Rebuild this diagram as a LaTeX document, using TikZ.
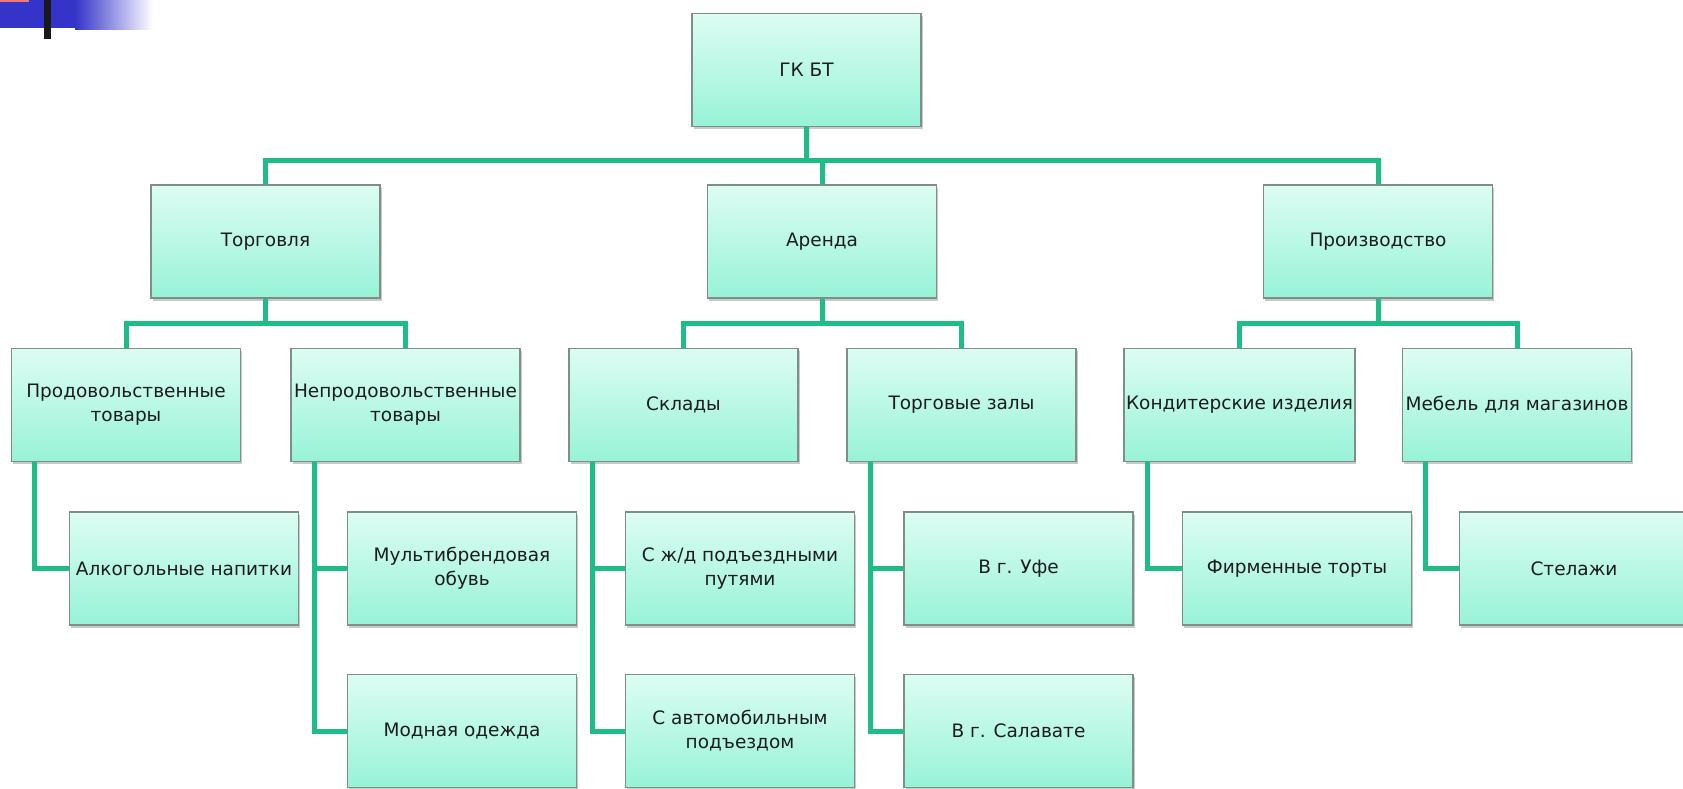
\documentclass[tikz,border=0pt]{standalone}
\usepackage{fontspec}
\setmainfont{DejaVu Sans}
\usetikzlibrary{shadows}

\definecolor{linkc}{HTML}{1DBD8A}
\definecolor{boxtop}{HTML}{DCFDF3}
\definecolor{boxbot}{HTML}{97F3D7}
\definecolor{boxedge}{HTML}{7F8F88}
\definecolor{textc}{HTML}{1C1C1C}
\definecolor{decoblue}{HTML}{3434C9}
\definecolor{decopink}{HTML}{F07878}

\begin{document}
\begin{tikzpicture}[x=1pt,y=-1pt,
  box/.style={draw=boxedge, line width=1.2pt, top color=boxtop, bottom color=boxbot,
    minimum width=229pt, minimum height=113pt, inner sep=2pt, align=center,
    text=textc, font=\fontsize{18.5}{24}\selectfont,
    drop shadow={shadow xshift=1.5pt, shadow yshift=-2.5pt, opacity=0.3, fill=black!70}},
  link/.style={draw=linkc, line width=5pt}]

\useasboundingbox (0,0) rectangle (1683,788);
\clip (0,0) rectangle (1683,788);

% corner ornament
\fill[decoblue] (0,0) rectangle (75,28);
\shade[left color=decoblue, right color=white] (75,0) rectangle (153,29);
\fill[decopink] (0,0) rectangle (29,2);
\fill[black!90] (44,0) rectangle (51,39);

% bus lines
\coordinate (b0) at (0,160);
\coordinate (b1) at (0,323);

% root
\node[box] (top) at (806.5,70) {ГК БТ};

% divisions
\node[box] (t1) at (265.5,241.5) {Торговля};
\node[box] (t2) at (822,241.5) {Аренда};
\node[box] (t3) at (1378,241.5) {Производство};

% sub-divisions
\node[box] (p1) at (126,405) {Продовольственные\\товары};
\node[box] (p2) at (405.5,405) {Непродовольственные\\товары};
\node[box] (p3) at (683.5,405) {Склады};
\node[box] (p4) at (961.5,405) {Торговые залы};
\node[box] (p5) at (1239.5,405) {Кондитерские изделия};
\node[box] (p6) at (1517,405) {Мебель для магазинов};

% items
\node[box] (a1) at (184,568.5) {Алкогольные напитки};
\node[box] (a2) at (462,568.5) {Мультибрендовая\\обувь};
\node[box] (a3) at (462,731) {Модная одежда};
\node[box] (a4) at (740,568.5) {С ж/д подъездными\\путями};
\node[box] (a5) at (740,731) {С автомобильным\\подъездом};
\node[box] (a6) at (1018.5,568.5) {В г. Уфе};
\node[box] (a7) at (1018.5,731) {В г. Салавате};
\node[box] (a8) at (1297,568.5) {Фирменные торты};
\node[box] (a9) at (1574,568.5) {Стелажи};

% root to divisions
\draw[link] (top.south) -- (top.south |- b0);
\draw[link] (t1.north) -- (t1.north |- b0) -| (t3.north);
\draw[link] (t2.north) -- (t2.north |- b0);

% divisions to sub-divisions
\draw[link] (t1.south) -- (t1.south |- b1);
\draw[link] (p1.north) -- (p1.north |- b1) -| (p2.north);
\draw[link] (t2.south) -- (t2.south |- b1);
\draw[link] (p3.north) -- (p3.north |- b1) -| (p4.north);
\draw[link] (t3.south) -- (t3.south |- b1);
\draw[link] (p5.north) -- (p5.north |- b1) -| (p6.north);

% sub-divisions to items
\draw[link] ([xshift=24pt]p1.south west) |- (a1.west);
\draw[link] ([xshift=24pt]p2.south west) |- (a2.west);
\draw[link] ([xshift=24pt]p2.south west) |- (a3.west);
\draw[link] ([xshift=24pt]p3.south west) |- (a4.west);
\draw[link] ([xshift=24pt]p3.south west) |- (a5.west);
\draw[link] ([xshift=24pt]p4.south west) |- (a6.west);
\draw[link] ([xshift=24pt]p4.south west) |- (a7.west);
\draw[link] ([xshift=24pt]p5.south west) |- (a8.west);
\draw[link] ([xshift=24pt]p6.south west) |- (a9.west);
\end{tikzpicture}
\end{document}
